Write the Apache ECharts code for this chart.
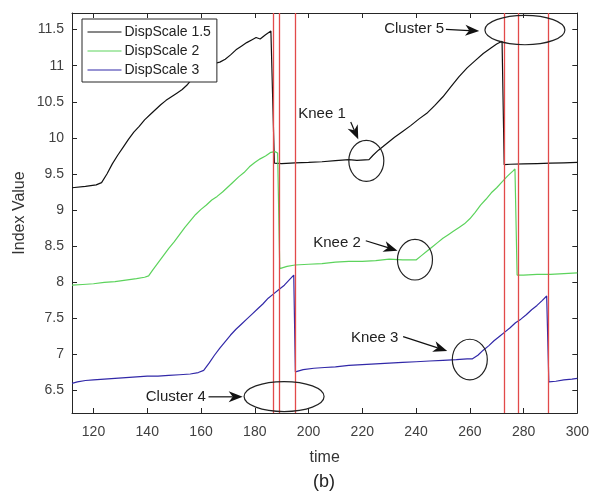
<!DOCTYPE html>
<html><head><meta charset="utf-8">
<script src="https://cdn.jsdelivr.net/npm/echarts@6/dist/echarts.min.js"></script>
<style>html,body{margin:0;padding:0;background:#fff}#c{width:592px;height:493px}</style>
</head><body><div id="c"></div>
<script>
// ---- data ----
const xTicks = [120,140,160,180,200,220,240,260,280,300];
const yTicks = [6.5,7,7.5,8,8.5,9,9.5,10,10.5,11,11.5];
const seriesNames = ['DispScale 1.5','DispScale 2','DispScale 3'];

const blackX = [112,117,121,123,125,127,129,131,133,135,137,139,141,143,145,147,149,151,153,155,157,159,161,163,165,167,169,171,173,175,177,179,180.5,182,184,186,
  187.3,190,195,200,205,210,215,218,222.5,224,226,229,232,235,238,241,244,247,250,253,256,259,262,265,268,270,272,
  272.8,275,280,285,290,295,300];
const blackY = [9.31,9.33,9.35,9.38,9.50,9.64,9.76,9.87,9.98,10.08,10.16,10.25,10.32,10.39,10.46,10.52,10.57,10.62,10.67,10.74,10.83,10.90,10.96,10.99,11.03,11.05,11.09,11.15,11.22,11.27,11.32,11.36,11.39,11.37,11.43,11.48,
  9.65,9.645,9.655,9.66,9.67,9.685,9.70,9.69,9.70,9.76,9.83,9.92,10.01,10.09,10.17,10.26,10.34,10.45,10.57,10.71,10.85,10.97,11.07,11.17,11.25,11.30,11.34,
  9.63,9.635,9.64,9.645,9.65,9.655,9.66];

const greenX = [112,116,120,124,128,132,136,139,140.5,142,144,146,148,150,152,154,156,158,160,162,164,166,168,170,172,174,176,178,180,182,184,186,187.5,188.5,
  189.3,192,195,200,205,210,215,220,225,230,235,240,242,244,246,248,250,252,254,256,258,260,262,264,266,268,270,272,274,276,276.8,
  277.6,280,285,290,295,300];
const greenY = [7.96,7.97,7.98,8.00,8.01,8.03,8.05,8.07,8.09,8.17,8.27,8.37,8.47,8.56,8.66,8.76,8.85,8.94,9.01,9.07,9.14,9.19,9.25,9.32,9.39,9.46,9.52,9.60,9.66,9.71,9.75,9.80,9.81,9.79,
  8.19,8.22,8.24,8.25,8.26,8.28,8.29,8.29,8.30,8.32,8.31,8.31,8.37,8.43,8.49,8.55,8.61,8.66,8.71,8.76,8.81,8.88,8.97,9.07,9.15,9.24,9.31,9.39,9.47,9.54,9.57,
  8.10,8.10,8.11,8.11,8.12,8.13];

const blueX = [112,114,117,120,124,128,132,136,140,144,148,152,156,159,161,163,165,167,169,171,173,175,177,179,181,183,185,187,189,191,193,194.5,
  195.1,198,202,206,210,215,220,225,230,235,240,245,250,255,259,261,263,265,267,269,271,273,275,277,279,281,283,285,287,288.6,
  289.4,292,295,298,300];
const blueY = [6.60,6.62,6.64,6.65,6.66,6.67,6.68,6.69,6.70,6.70,6.71,6.72,6.73,6.75,6.78,6.88,6.99,7.09,7.18,7.27,7.35,7.42,7.49,7.56,7.63,7.70,7.78,7.84,7.90,7.96,8.04,8.10,
  6.76,6.79,6.81,6.82,6.83,6.85,6.86,6.87,6.88,6.89,6.90,6.91,6.92,6.93,6.94,6.94,6.99,7.06,7.12,7.19,7.25,7.31,7.37,7.44,7.49,7.55,7.62,7.68,7.75,7.81,
  6.62,6.63,6.65,6.66,6.67];

const clusterLines = [187,189,195,273,278,289];

// annotation anchors in data coordinates
const annLabels = ['Knee 1','Knee 2','Knee 3','Cluster 4','Cluster 5'];
const annTextX  = [205.0,210.6,224.6,150.6,239.3];
const annTextY  = [10.34,8.551,7.226,6.414,11.504];
const annEllX   = [221.5,239.6,260.0,190.9,280.5];
const annEllY   = [9.683,8.313,6.930,6.418,11.494];
const annArrX0  = [215.7,221.3,235.2,162.8,251.1];
const annArrY0  = [10.22,8.576,7.248,6.414,11.504];
const annArrX1  = [218.5,233.1,251.6,175.5,263.5];
const annArrY1  = [9.98,8.438,7.050,6.414,11.48];

// ---- chart ----
const FONT = '"Liberation Sans", Arial, sans-serif';
const zip = (xs, ys) => xs.map((x, i) => [x, ys[i]]);
const colors = ['#111111', '#5cd35c', '#3128a8'];
const chart = echarts.init(document.getElementById('c'), null, {renderer: 'canvas'});

const axisCommon = {
  axisLine: {show: true, lineStyle: {color: '#262626', width: 1}},
  splitLine: {show: false},
};

chart.setOption({
  animation: false,
  backgroundColor: '#fff',
  textStyle: {fontFamily: FONT},
  grid: {left: 72, right: 14, top: 13, bottom: 80, show: false},
  legend: {
    orient: 'vertical', left: 82, top: 19,
    data: seriesNames,
    itemWidth: 34, itemHeight: 14, itemGap: 5,
    padding: [6, 6, 5, 5],
    borderColor: '#262626', borderWidth: 1, backgroundColor: '#fff',
    itemStyle: {opacity: 0},
    lineStyle: {width: 1},
    textStyle: {fontSize: 14, color: '#222', fontFamily: FONT, padding: [0, 0, 0, -2]},
    z: 20
  },
  xAxis: [
    Object.assign({}, axisCommon, {
      type: 'value', min: 112, max: 300, position: 'bottom',
      name: 'time', nameLocation: 'middle', nameGap: 37,
      nameTextStyle: {fontSize: 16, color: '#333', fontFamily: FONT},
      axisTick: {show: true, inside: true, length: 5, customValues: xTicks, lineStyle: {color: '#262626'}},
      axisLabel: {show: true, customValues: xTicks, fontSize: 14, color: '#404040', margin: 12, fontFamily: FONT}
    }),
    Object.assign({}, axisCommon, {
      type: 'value', min: 112, max: 300, position: 'top',
      axisTick: {show: true, inside: true, length: 5, customValues: xTicks, lineStyle: {color: '#262626'}},
      axisLabel: {show: false}
    })
  ],
  yAxis: [
    Object.assign({}, axisCommon, {
      type: 'value', min: 6.19, max: 11.73, position: 'left',
      name: 'Index Value', nameLocation: 'middle', nameGap: 44, nameMoveOverlap: false,
      nameTextStyle: {fontSize: 16, color: '#333', fontFamily: FONT},
      axisTick: {show: true, inside: true, length: 5, customValues: yTicks, lineStyle: {color: '#262626'}},
      axisLabel: {show: true, customValues: yTicks, fontSize: 14, color: '#404040', margin: 8, fontFamily: FONT}
    }),
    Object.assign({}, axisCommon, {
      type: 'value', min: 6.19, max: 11.73, position: 'right',
      axisTick: {show: true, inside: true, length: 5, customValues: yTicks, lineStyle: {color: '#262626'}},
      axisLabel: {show: false}
    })
  ],
  series: [
    {name: seriesNames[0], type: 'line', data: zip(blackX, blackY), symbol: 'none', color: colors[0],
     lineStyle: {width: 1.2, color: colors[0]}, z: 3},
    {name: seriesNames[1], type: 'line', data: zip(greenX, greenY), symbol: 'none', color: colors[1],
     lineStyle: {width: 1.2, color: colors[1]}, z: 3},
    {name: seriesNames[2], type: 'line', data: zip(blueX, blueY), symbol: 'none', color: colors[2],
     lineStyle: {width: 1.2, color: colors[2]}, z: 3},
    {name: 'clusters', type: 'line', data: [], z: 5, silent: true,
     markLine: {symbol: ['none', 'none'], silent: true, animation: false,
       label: {show: false},
       lineStyle: {color: '#e24a4a', width: 1.3, type: 'solid'},
       emphasis: {disabled: true},
       data: clusterLines.map(v => ({xAxis: v}))}}
  ]
});

// ---- annotations (anchored in data space) ----
const px = (x, y) => chart.convertToPixel({xAxisIndex: 0, yAxisIndex: 0}, [x, y]);
const graphics = [];
const ellR = [[17.5, 20.5], [17.5, 20.3], [17.5, 20.3], [40, 15], [40, 14.7]];
annLabels.forEach((lab, i) => {
  const t = px(annTextX[i], annTextY[i]);
  graphics.push({type: 'text', x: t[0], y: t[1], z: 30,
    style: {text: lab, fontSize: 15, fontFamily: FONT, fill: '#222', align: 'center', verticalAlign: 'middle'}});
  const e = px(annEllX[i], annEllY[i]);
  graphics.push({type: 'ellipse', z: 30, shape: {cx: e[0], cy: e[1], rx: ellR[i][0], ry: ellR[i][1]},
    style: {fill: 'none', stroke: '#222', lineWidth: 1.2}});
  const a0 = px(annArrX0[i], annArrY0[i]);
  const a1 = px(annArrX1[i], annArrY1[i]);
  const dx = a1[0] - a0[0], dy = a1[1] - a0[1];
  const len = Math.hypot(dx, dy);
  const ux = dx / len, uy = dy / len, nx = -uy, ny = ux;
  const L = 14, W = 5.5, ind = 4;
  graphics.push({type: 'line', z: 30, shape: {x1: a0[0], y1: a0[1], x2: a1[0] - ux * (L - ind), y2: a1[1] - uy * (L - ind)},
    style: {stroke: '#111', lineWidth: 1.2}});
  graphics.push({type: 'polygon', z: 30, shape: {points: [
    [a1[0], a1[1]],
    [a1[0] - ux * L + nx * W, a1[1] - uy * L + ny * W],
    [a1[0] - ux * (L - ind), a1[1] - uy * (L - ind)],
    [a1[0] - ux * L - nx * W, a1[1] - uy * L - ny * W]
  ]}, style: {fill: '#111'}});
});
// caption
graphics.push({type: 'text', x: 324, y: 482, z: 30,
  style: {text: '(b)', fontSize: 18, fontFamily: FONT, fill: '#222', align: 'center', verticalAlign: 'middle'}});
chart.setOption({graphic: graphics});
</script>
</body></html>
